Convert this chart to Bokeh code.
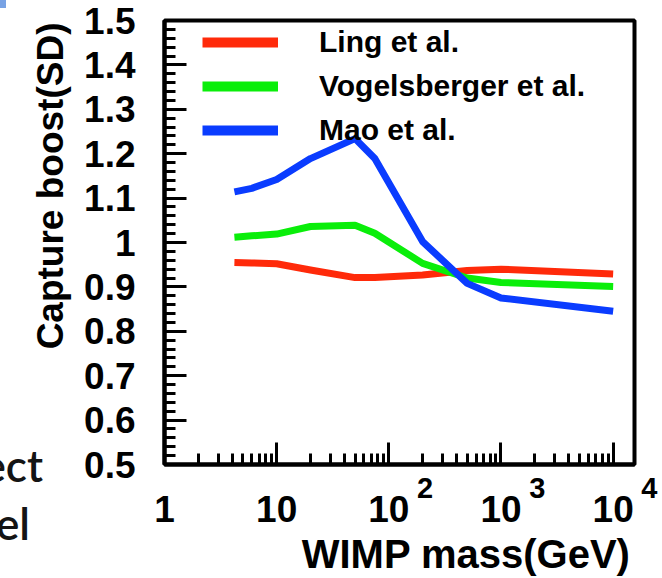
from bokeh.plotting import figure
from bokeh.models import FixedTicker, LogAxis, Legend, LegendItem, CustomJSTickFormatter, Div
from bokeh.layouts import column
from bokeh.embed import file_html
from bokeh.resources import INLINE

# ---------------- data ----------------
mass = [4.2, 6, 10, 20, 50, 75, 200, 500, 1000, 10000]
ling = [0.955, 0.954, 0.952, 0.938, 0.921, 0.921, 0.927, 0.937, 0.940, 0.929]
vogelsberger = [1.012, 1.015, 1.019, 1.036, 1.039, 1.021, 0.953, 0.920, 0.910, 0.901]
mao = [1.114, 1.122, 1.142, 1.189, 1.234, 1.189, 1.002, 0.908, 0.875, 0.845]

series_names = ["Ling et al.", "Vogelsberger et al.", "Mao et al."]
series_colors = ["#ff2a0a", "#0aee0a", "#0a3cff"]

x_major = [1, 10, 100, 1000, 10000]
x_base_labels = ["1", "10", "10", "10", "10"]
x_exp_labels = ["", "", "2", "3", "4"]
x_minor = [m * 10 ** d for d in range(4) for m in range(2, 10)]

y_major = [0.5, 0.6, 0.7, 0.8, 0.9, 1.0, 1.1, 1.2, 1.3, 1.4, 1.5]
y_labels = ["0.5", "0.6", "0.7", "0.8", "0.9", "1", "1.1", "1.2", "1.3", "1.4", "1.5"]
y_minor = [round(0.5 + 0.02 * i, 2) for i in range(51)]

x_title = "WIMP mass(GeV)"
y_title = "Capture boost(SD)"
slide_fragments = ["ect", "el"]

FONT = "Liberation Sans"
W, H = 662, 578
FL, FR, FT, FB = 164, 634, 20, 465  # frame edges in px
X0, X1 = 1, 15500
Y0, Y1 = 0.5, 1.5
NB = "\u00a0"

LOOKUP = """
let best = 0, d = Infinity;
for (let i = 0; i < tvals.length; i++) {
  const e = Math.abs(Math.log(tvals[i]) - Math.log(tick));
  if (e < d) { d = e; best = i; }
}
return tlabels[best];
"""

p = figure(width=W, height=H, x_axis_type="log", x_range=(X0, X1), y_range=(Y0, Y1),
           output_backend="svg", toolbar_location=None,
           min_border_left=FL, min_border_right=W - FR, min_border_top=FT, min_border_bottom=H - FB)
p.grid.visible = False
p.outline_line_color = "black"
p.outline_line_width = 4
p.background_fill_color = "white"
p.border_fill_color = "white"

# inner x axis: ticks + exponents
xa = p.xaxis[0]
xa.ticker = FixedTicker(ticks=x_major, minor_ticks=x_minor)
xa.formatter = CustomJSTickFormatter(
    args=dict(tvals=x_major, tlabels=[(NB * 9 + e) if e else "" for e in x_exp_labels]), code=LOOKUP)
xa.major_tick_in = 22
xa.major_tick_out = 0
xa.minor_tick_in = 11
xa.minor_tick_out = 0
xa.major_tick_line_width = 3
xa.minor_tick_line_width = 3
xa.axis_line_width = 4
xa.major_label_standoff = 7
xa.major_label_text_font = FONT
xa.major_label_text_font_style = "bold"
xa.major_label_text_font_size = "29px"
xa.major_label_text_color = "black"

# outer x axis: base labels + title
xb = LogAxis(ticker=FixedTicker(ticks=x_major, minor_ticks=[]),
             formatter=CustomJSTickFormatter(args=dict(tvals=x_major, tlabels=x_base_labels), code=LOOKUP))
xb.major_tick_in = 0
xb.major_tick_out = 0
xb.minor_tick_in = 0
xb.minor_tick_out = 0
xb.axis_line_color = None
xb.major_label_standoff = -11
xb.major_label_text_font = FONT
xb.major_label_text_font_style = "bold"
xb.major_label_text_font_size = "37px"
xb.major_label_text_color = "black"
xb.axis_label = NB * 12 + x_title          # leading padding pushes the title to the right end
xb.axis_label_standoff = 7
xb.axis_label_text_font = FONT
xb.axis_label_text_font_style = "bold"
xb.axis_label_text_font_size = "40px"
xb.axis_label_text_color = "black"
p.add_layout(xb, "below")

# y axis
ya = p.yaxis[0]
ya.ticker = FixedTicker(ticks=y_major, minor_ticks=y_minor)
ya.formatter = CustomJSTickFormatter(args=dict(tvals=y_major, tlabels=y_labels), code=LOOKUP)
ya.major_tick_in = 22
ya.major_tick_out = 0
ya.minor_tick_in = 11
ya.minor_tick_out = 0
ya.major_tick_line_width = 3
ya.minor_tick_line_width = 3
ya.axis_line_width = 4
ya.major_label_standoff = 29
ya.major_label_text_font = FONT
ya.major_label_text_font_style = "bold"
ya.major_label_text_font_size = "37px"
ya.major_label_text_color = "black"
ya.axis_label = NB * 11 + y_title          # leading padding pushes the title to the top end
ya.axis_label_standoff = 10
ya.axis_label_text_font = FONT
ya.axis_label_text_font_style = "bold"
ya.axis_label_text_font_size = "37px"
ya.axis_label_text_color = "black"

# curves
for ys, c in zip([ling, vogelsberger, mao], series_colors):
    p.line(mass, ys, line_color=c, line_width=7, line_join="round")

# legend samples (thicker lines); single-point renderers draw nothing in the frame
samples = [p.line(mass[:1], ys[:1], line_color=c, line_width=10)
           for ys, c in zip([ling, vogelsberger, mao], series_colors)]
legend = Legend(items=[LegendItem(label=n, renderers=[r]) for n, r in zip(series_names, samples)],
                location=(38, 317), orientation="vertical", padding=6, margin=0, spacing=10,
                glyph_width=76, glyph_height=34, label_height=34, label_standoff=41,
                label_text_font=FONT, label_text_font_size="30px", label_text_font_style="bold",
                label_text_color="black", border_line_color=None, background_fill_alpha=0)
p.add_layout(legend)

# cropped slide decorations at the left edge (overlay)
frag_style = "position:absolute;top:{top}px;right:{right}px;font-family:Lato,sans-serif;" \
             "font-weight:600;font-size:44px;line-height:56px;color:#141414;white-space:nowrap;"
html = ('<div style="position:absolute;left:0;top:0;width:6px;height:8px;background:#78a2e4;"></div>'
        f'<div style="{frag_style.format(top=437, right=W - 43)}">{slide_fragments[0]}</div>'
        f'<div style="{frag_style.format(top=495, right=W - 30)}">{slide_fragments[1]}</div>')
overlay = Div(text=html, width=W, height=H, margin=(0, 0, 0, 0),
              styles={"position": "absolute", "left": "0px", "top": "0px", "pointer-events": "none"})

layout = column(p, overlay)
open("out.html", "w").write(file_html(layout, INLINE))
